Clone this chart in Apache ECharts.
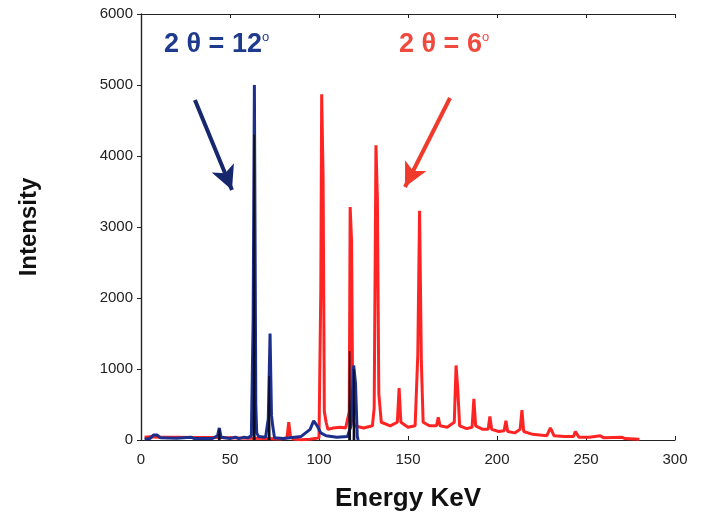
<!DOCTYPE html>
<html>
<head>
<meta charset="utf-8">
<script src="https://cdn.jsdelivr.net/npm/echarts@6/dist/echarts.min.js"></script>
<style>
  html, body { margin: 0; padding: 0; background: #fff; }
  #chart { width: 703px; height: 517px; }
</style>
</head>
<body>
<div id="chart"></div>
<script>
// energy (keV), intensity pairs
const redEnergy = [2, 5, 10, 20, 30, 40, 50, 60, 70, 78, 82, 83, 84, 86, 90, 95, 100, 101, 101.5, 102.3, 103, 104, 105, 108, 112, 115, 117, 117.5, 118.3, 119, 120, 125, 130, 131, 132, 132.8, 133.6, 135, 140, 144, 145, 146, 150, 154, 155.5, 156.5, 157.5, 158.5, 162, 166, 167, 168, 172, 176, 177, 178, 179, 183, 186, 187, 188, 192, 195, 196, 197, 201, 204, 205, 206, 210, 213, 214, 215, 220, 228, 230, 232, 238, 243, 244, 246, 252, 258, 260, 270, 272, 280];
const redIntensity = [40, 45, 40, 40, 35, 35, 30, 25, 20, 15, 30, 250, 40, 10, 5, 10, 30, 2100, 4870, 3700, 400, 250, 150, 170, 180, 170, 400, 3280, 2800, 300, 200, 170, 200, 450, 4150, 3400, 650, 250, 200, 250, 730, 250, 180, 200, 1200, 3230, 1100, 250, 200, 200, 320, 200, 180, 250, 1050, 700, 200, 160, 180, 580, 200, 150, 150, 330, 150, 120, 130, 270, 120, 100, 150, 420, 120, 80, 60, 170, 60, 50, 50, 120, 40, 40, 60, 30, 40, 20, 10];

const blueEnergy = [2, 5, 7, 9, 11, 20, 28, 30, 40, 43, 44, 45, 50, 53, 55, 58, 60, 62, 63, 63.7, 64.5, 65, 66, 70, 71.5, 72.5, 73.3, 74, 75, 80, 90, 95, 97, 99, 101, 104, 110, 116, 118, 119.5, 120.5, 121.5, 122];
const blueIntensity = [10, 20, 70, 70, 30, 25, 40, 20, 20, 60, 170, 40, 20, 40, 20, 40, 30, 60, 1700, 5000, 500, 100, 50, 40, 300, 1500, 350, 200, 30, 20, 50, 150, 270, 200, 100, 60, 40, 50, 200, 1050, 800, 50, 0];

// darker cores inside the blue peaks
const blackEnergy = [43.6, 44, 44.4, null, 63.2, 63.6, 64, null, 71.6, 72, 72.4, null, 116.8, 117.2, 117.6, null, 119.3, 119.6, 120];
const blackIntensity = [0, 150, 0, null, 0, 4300, 0, null, 0, 900, 0, null, 0, 1250, 0, null, 0, 1000, 0];

const xTicks = [0, 50, 100, 150, 200, 250, 300];
const yTicks = [0, 1000, 2000, 3000, 4000, 5000, 6000];

function pairs(xs, ys) {
  return xs.map((x, i) => (x === null ? null : [x, ys[i]]));
}

const chart = echarts.init(document.getElementById('chart'));

const font = 'Liberation Sans, Arial, sans-serif';

const option = {
  animation: false,
  grid: { left: 141, right: 28, top: 14, bottom: 77 },
  xAxis: [{
    type: 'value', min: xTicks[0], max: xTicks[xTicks.length - 1], interval: 50,
    name: 'Energy KeV', nameLocation: 'middle', nameGap: 46,
    nameTextStyle: { fontFamily: font, fontSize: 26, fontWeight: 'bold', color: '#111' },
    axisLine: { lineStyle: { color: '#222', width: 1.2 } },
    axisTick: { inside: true, length: 4, lineStyle: { color: '#222' } },
    axisLabel: { fontFamily: font, fontSize: 15, color: '#222', margin: 12 },
    splitLine: { show: false }
  }, {
    type: 'value', min: 0, max: 300, interval: 50, position: 'top',
    axisLine: { show: true, onZero: false, lineStyle: { color: '#222', width: 1.2 } },
    axisTick: { inside: true, length: 4, lineStyle: { color: '#222' } },
    axisLabel: { show: false }, splitLine: { show: false }
  }],
  yAxis: [{
    type: 'value', min: yTicks[0], max: yTicks[yTicks.length - 1], interval: 1000,
    name: 'Intensity', nameLocation: 'middle', nameGap: 100,
    nameTextStyle: { fontFamily: font, fontSize: 24, fontWeight: 'bold', color: '#111' },
    axisLine: { show: true, lineStyle: { color: '#222', width: 1.2 } },
    axisTick: { show: true, length: 4, lineStyle: { color: '#222' } },
    axisLabel: { fontFamily: font, fontSize: 15, color: '#222', margin: 8, formatter: v => String(v) },
    splitLine: { show: false }
  }, {
    type: 'value', min: 0, max: 6000, interval: 1000, position: 'right',
    axisLine: { show: true, lineStyle: { color: '#222', width: 1.2 } },
    axisTick: { show: true, inside: true, length: 4, lineStyle: { color: '#222' } },
    axisLabel: { show: false }, splitLine: { show: false }
  }],
  series: [{
    name: '2θ=6', type: 'line', showSymbol: false,
    data: pairs(redEnergy, redIntensity),
    lineStyle: { color: '#ff2424', width: 3 },
    z: 2,
    markLine: {
      symbol: ['none', 'arrow'], symbolSize: [18, 24], silent: true,
      lineStyle: { color: '#f03a2c', width: 4, type: 'solid' },
      label: { show: false },
      data: [[{ coord: [173.6, 4817] }, { coord: [148.3, 3563] }]]
    }
  }, {
    name: '2θ=12', type: 'line', showSymbol: false,
    data: pairs(blueEnergy, blueIntensity),
    lineStyle: { color: '#1d2f8c', width: 3 },
    z: 3,
    markLine: {
      symbol: ['none', 'arrow'], symbolSize: [18, 24], silent: true,
      lineStyle: { color: '#17276e', width: 4, type: 'solid' },
      label: { show: false },
      data: [[{ coord: [30.3, 4789] }, { coord: [51.1, 3521] }]]
    }
  }, {
    name: 'core', type: 'line', showSymbol: false, connectNulls: false,
    data: pairs(blackEnergy, blackIntensity),
    lineStyle: { color: '#0d0d22', width: 1.5 },
    z: 4
  }],
  graphic: [{
    type: 'text', left: 164, top: 31,
    style: {
      text: '{m|2 θ = 12}{s|o}',
      rich: {
        m: { fontFamily: font, fontSize: 27, fontWeight: 900, fill: '#1e3a8c' },
        s: { fontFamily: font, fontSize: 13, fill: '#1e3a8c', verticalAlign: 'top', padding: [0, 0, 12, 0] }
      }
    }
  }, {
    type: 'text', left: 399, top: 31,
    style: {
      text: '{m|2 θ = 6}{s|o}',
      rich: {
        m: { fontFamily: font, fontSize: 27, fontWeight: 900, fill: '#f04a3e' },
        s: { fontFamily: font, fontSize: 13, fill: '#f04a3e', verticalAlign: 'top', padding: [0, 0, 12, 0] }
      }
    }
  }]
};

chart.setOption(option);
</script>
</body>
</html>
